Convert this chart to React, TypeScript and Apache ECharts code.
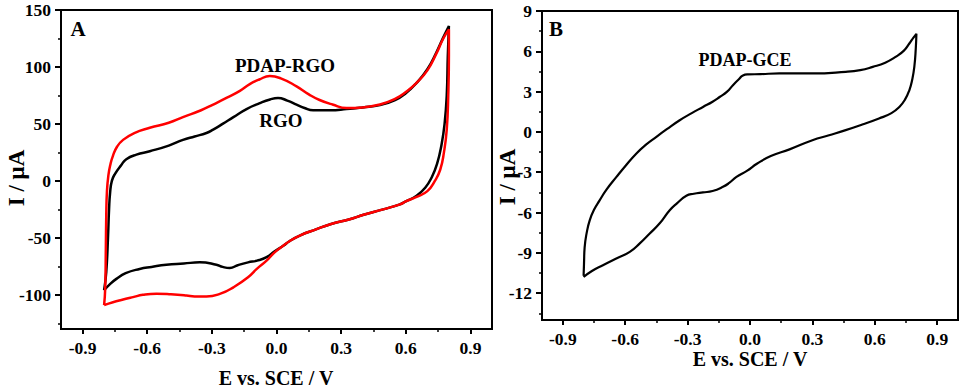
import React, { useEffect, useRef } from "react";
import * as echarts from "echarts";

// Panel A: RGO (black) and PDAP-RGO (red) cyclic voltammograms (E / V, I / µA)
const rgoLoop: [number, number][] = [
  [-0.8, -96], [-0.79, -80], [-0.782, -50], [-0.777, -25], [-0.772, -10], [-0.764, 0], [-0.75, 6],
  [-0.72, 14], [-0.697, 19], [-0.65, 23], [-0.588, 26], [-0.5, 31], [-0.434, 36], [-0.38, 39],
  [-0.325, 42], [-0.294, 45], [-0.25, 50], [-0.2, 56], [-0.139, 63], [-0.08, 68], [-0.03, 71.5],
  [0.007, 72.8], [0.05, 70.5], [0.093, 67], [0.13, 64], [0.17, 62], [0.248, 62], [0.325, 63],
  [0.4, 64.5], [0.48, 66.5], [0.55, 71], [0.6, 77], [0.65, 86], [0.7, 98], [0.74, 112],
  [0.774, 126], [0.8, 136],
  [0.795, 110], [0.79, 75], [0.78, 50], [0.766, 32], [0.745, 15], [0.72, 3], [0.69, -6],
  [0.65, -13], [0.6, -18], [0.573, -20.6], [0.495, -25], [0.4, -30], [0.34, -33.7], [0.25, -38],
  [0.186, -42.4], [0.108, -48], [0.06, -53], [0.031, -57], [-0.01, -62], [-0.046, -67],
  [-0.09, -70], [-0.132, -71.5], [-0.18, -74], [-0.217, -76.5], [-0.25, -75.5], [-0.279, -73.6],
  [-0.356, -71.5], [-0.43, -72.5], [-0.511, -73.6], [-0.58, -75.5], [-0.635, -77.3], [-0.7, -81],
  [-0.743, -86], [-0.775, -91], [-0.8, -96],
];

const pdapRgoLoop: [number, number][] = [
  [-0.8, -109], [-0.795, -95], [-0.792, -60], [-0.79, -30], [-0.787, -10], [-0.78, 5], [-0.77, 15],
  [-0.759, 22], [-0.74, 30], [-0.712, 36], [-0.66, 42], [-0.588, 46.6], [-0.5, 51], [-0.434, 56],
  [-0.35, 62], [-0.294, 67], [-0.23, 73], [-0.17, 79], [-0.124, 85], [-0.08, 89], [-0.031, 92],
  [0.02, 90], [0.093, 83], [0.15, 76], [0.2, 71], [0.26, 67], [0.325, 64], [0.4, 64.5], [0.48, 67],
  [0.55, 72], [0.6, 78], [0.65, 86], [0.7, 97], [0.74, 111], [0.774, 125], [0.8, 133],
  [0.8, 110], [0.797, 75], [0.79, 45], [0.777, 25], [0.76, 10], [0.735, 0], [0.7, -9], [0.65, -14],
  [0.6, -18], [0.573, -20.6], [0.495, -25], [0.4, -30], [0.34, -33.7], [0.25, -38], [0.186, -42.4],
  [0.108, -48], [0.06, -53], [0.031, -57], [-0.01, -63], [-0.046, -70], [-0.09, -77],
  [-0.132, -84.6], [-0.2, -93.4], [-0.26, -99], [-0.325, -101.5], [-0.38, -101.5],
  [-0.418, -100.6], [-0.49, -99.5], [-0.557, -99], [-0.62, -100], [-0.666, -102], [-0.72, -104.5],
  [-0.759, -106.5], [-0.8, -109],
];

// Panel B: PDAP-GCE
const pdapGceLoop: [number, number][] = [
  [-0.8, -10.7], [-0.798, -9.8], [-0.795, -8.6], [-0.785, -7.5], [-0.771, -6.6], [-0.75, -5.8],
  [-0.723, -5.1], [-0.69, -4.3], [-0.642, -3.35], [-0.6, -2.55], [-0.546, -1.6], [-0.5, -0.95],
  [-0.45, -0.37], [-0.4, 0.2], [-0.338, 0.87], [-0.28, 1.4], [-0.226, 1.86], [-0.18, 2.25],
  [-0.146, 2.6], [-0.11, 3.0], [-0.082, 3.48], [-0.055, 3.9], [-0.034, 4.2], [-0.01, 4.28],
  [0.05, 4.3], [0.141, 4.35], [0.3, 4.35], [0.46, 4.47], [0.53, 4.6], [0.59, 4.84], [0.65, 5.15],
  [0.7, 5.58], [0.74, 6.05], [0.766, 6.58], [0.785, 7.0], [0.8, 7.3],
  [0.797, 6.2], [0.79, 4.84], [0.78, 3.9], [0.766, 3.1], [0.745, 2.4], [0.718, 1.86], [0.68, 1.4],
  [0.62, 1.0], [0.54, 0.55], [0.46, 0.13], [0.38, -0.25], [0.3, -0.62], [0.19, -1.3], [0.1, -1.8],
  [0.035, -2.35], [-0.015, -2.9], [-0.065, -3.35], [-0.1, -3.8], [-0.13, -4.09], [-0.18, -4.4],
  [-0.226, -4.5], [-0.27, -4.6], [-0.306, -4.75], [-0.35, -5.3], [-0.386, -5.83], [-0.434, -6.8],
  [-0.482, -7.56], [-0.53, -8.3], [-0.578, -8.93], [-0.64, -9.4], [-0.707, -9.92], [-0.76, -10.35],
  [-0.8, -10.8],
];

const xTicks = [-0.9, -0.6, -0.3, 0, 0.3, 0.6, 0.9];
const xMinorTicks = [-0.75, -0.45, -0.15, 0.15, 0.45, 0.75];
const yTicksA = [-100, -50, 0, 50, 100, 150];
const yMinorTicksA = [-125, -75, -25, 25, 75, 125];
const yTicksB = [-12, -9, -6, -3, 0, 3, 6, 9];
const yMinorTicksB = [-13.5, -10.5, -7.5, -4.5, -1.5, 1.5, 4.5, 7.5];

const FONT = '"Liberation Serif", "Times New Roman", serif';

export default function App() {
  const ref = useRef<HTMLDivElement>(null);
  useEffect(() => {
    if (!ref.current) return;
    const chart = echarts.init(ref.current, undefined, { renderer: "svg" });

    const labelStyle = { color: "#000", fontFamily: FONT, fontWeight: "bold" as const, fontSize: 17.5 };

    const mainX = (gridIndex: number) => ({
      type: "value" as const,
      gridIndex,
      min: -1.0,
      max: 1.0,
      position: "bottom" as const,
      axisLine: { show: true, onZero: false, lineStyle: { color: "#000", width: 2 } },
      axisTick: { show: true, inside: false, length: 5, customValues: xTicks, lineStyle: { color: "#000", width: 2 } },
      axisLabel: { ...labelStyle, margin: 10, customValues: xTicks, formatter: (v: number) => v.toFixed(1) },
      splitLine: { show: false },
    });
    const minorX = (gridIndex: number) => ({
      type: "value" as const,
      gridIndex,
      min: -1.0,
      max: 1.0,
      position: "bottom" as const,
      axisLine: { show: false, onZero: false },
      axisTick: { show: true, inside: false, length: 3, customValues: xMinorTicks, lineStyle: { color: "#000", width: 1.5 } },
      axisLabel: { show: false },
      splitLine: { show: false },
    });
    const mainY = (gridIndex: number, min: number, max: number, ticks: number[]) => ({
      type: "value" as const,
      gridIndex,
      min,
      max,
      position: "left" as const,
      axisLine: { show: true, onZero: false, lineStyle: { color: "#000", width: 2 } },
      axisTick: { show: true, inside: false, length: 6, customValues: ticks, lineStyle: { color: "#000", width: 2 } },
      axisLabel: { ...labelStyle, margin: 10, customValues: ticks, formatter: (v: number) => String(Math.round(v)) },
      splitLine: { show: false },
    });
    const minorY = (gridIndex: number, min: number, max: number, ticks: number[]) => ({
      type: "value" as const,
      gridIndex,
      min,
      max,
      position: "left" as const,
      axisLine: { show: false, onZero: false },
      axisTick: { show: true, inside: false, length: 3, customValues: ticks, lineStyle: { color: "#000", width: 1.5 } },
      axisLabel: { show: false },
      splitLine: { show: false },
    });

    const textStyle = (size: number) => ({
      fill: "#000",
      fontFamily: FONT,
      fontWeight: "bold",
      fontSize: size,
      align: "center",
      verticalAlign: "middle",
    });

    chart.setOption({
      animation: false,
      backgroundColor: "#fff",
      grid: [
        { left: 61, top: 10, width: 431, height: 319, show: true, borderColor: "#000", borderWidth: 2, backgroundColor: "transparent", outerBoundsMode: "none" },
        { left: 542, top: 11, width: 416, height: 309, show: true, borderColor: "#000", borderWidth: 2, backgroundColor: "transparent", outerBoundsMode: "none" },
      ],
      xAxis: [mainX(0), minorX(0), mainX(1), minorX(1)],
      yAxis: [
        mainY(0, -130, 150, yTicksA),
        minorY(0, -130, 150, yMinorTicksA),
        mainY(1, -14, 9, yTicksB),
        minorY(1, -14, 9, yMinorTicksB),
      ],
      series: [
        {
          name: "RGO",
          type: "line",
          xAxisIndex: 0,
          yAxisIndex: 0,
          data: rgoLoop,
          showSymbol: false,
          smooth: 0.5,
          lineStyle: { color: "#000", width: 2.5 },
        },
        {
          name: "PDAP-RGO",
          type: "line",
          xAxisIndex: 0,
          yAxisIndex: 0,
          data: pdapRgoLoop,
          showSymbol: false,
          smooth: 0.5,
          lineStyle: { color: "#ff0000", width: 2.5 },
        },
        {
          name: "PDAP-GCE",
          type: "line",
          xAxisIndex: 2,
          yAxisIndex: 2,
          data: pdapGceLoop,
          showSymbol: false,
          smooth: 0.5,
          lineStyle: { color: "#000", width: 2.2 },
        },
      ],
      graphic: [
        { type: "text", x: 78, y: 29, style: { ...textStyle(21), text: "A" } },
        { type: "text", x: 556, y: 29, style: { ...textStyle(21), text: "B" } },
        { type: "text", x: 285, y: 65, style: { ...textStyle(19), text: "PDAP-RGO" } },
        { type: "text", x: 281, y: 120, style: { ...textStyle(19), text: "RGO" } },
        { type: "text", x: 745, y: 60, style: { ...textStyle(18), text: "PDAP-GCE" } },
        { type: "text", x: 276, y: 378, style: { ...textStyle(20), text: "E vs. SCE / V" } },
        { type: "text", x: 750, y: 359, style: { ...textStyle(20), text: "E vs. SCE / V" } },
        { type: "text", x: 16, y: 178, rotation: Math.PI / 2, style: { ...textStyle(23), text: "I / μA" } },
        { type: "text", x: 507, y: 177, rotation: Math.PI / 2, style: { ...textStyle(23), text: "I / μA" } },
      ],
    });
    return () => chart.dispose();
  }, []);
  return (
    <div
      ref={ref}
      style={{ position: "fixed", left: 0, top: 0, width: 963, height: 392, background: "#fff" }}
    />
  );
}
